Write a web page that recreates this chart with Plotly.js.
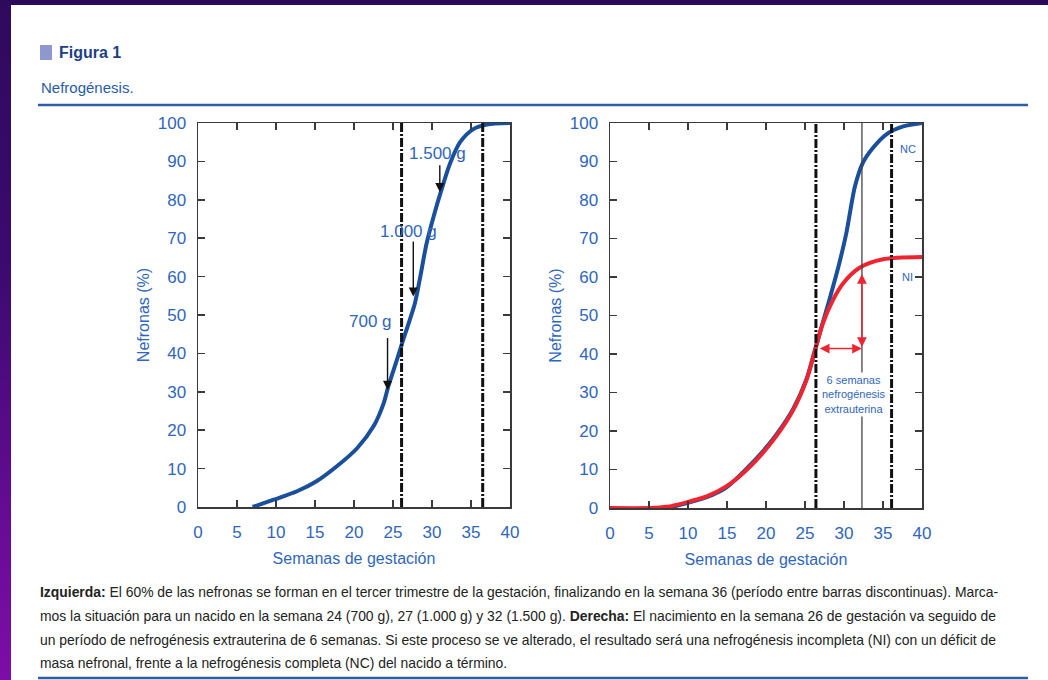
<!DOCTYPE html>
<html>
<head>
<meta charset="utf-8">
<script src="https://cdn.plot.ly/plotly-3.0.1.min.js"></script>
<style>
  html, body { margin: 0; padding: 0; background: #ffffff; }
  #wrap { position: relative; width: 1048px; height: 680px; overflow: hidden; }
  #chart { position: absolute; left: 0; top: 0; width: 1048px; height: 680px; }
  #topbar { position: absolute; left: 0; top: 0; width: 1048px; height: 5px; background: #2e0a5c; z-index: 5; }
  #leftbar { position: absolute; left: 0; top: 0; width: 11px; height: 680px; z-index: 5;
             background: linear-gradient(to bottom, #2e0a5c 0%, #3c0a70 40%, #6a0c98 80%, #7d0da8 100%); }
</style>
</head>
<body>
<div id="wrap">
  <div id="chart"></div>
  <div id="topbar"></div>
  <div id="leftbar"></div>
</div>
<script>
// ---- Data ----
// Left panel: nephrogenesis curve (NC)
const weeksLeft = [7, 9.7, 12.7, 15.2, 17.8, 20.4, 22.5, 23.8, 24.4, 25.5, 26.3, 27.8, 28.5, 29.3, 30.2, 31.2, 32.3, 33.6, 35.3, 37, 40];
const nephronsLeft = [0, 1.9, 4.1, 6.7, 10.6, 15.3, 21, 27, 31.4, 38.3, 43.5, 53, 60, 68.6, 75.6, 82.5, 89.4, 95, 98.4, 99.6, 100];
// Right panel: complete (NC) and incomplete (NI) nephrogenesis
const weeksNC = [7.5, 10.2, 12.4, 14.9, 17.1, 19.2, 21.3, 23.5, 25.2, 26.2, 27.3, 28, 29.4, 30.3, 31.4, 32.4, 33.7, 35.4, 37.6, 40];
const nephronsNC = [0, 1.5, 2.8, 5.3, 9.4, 13.8, 19, 25.8, 33.5, 40.5, 48.3, 53.2, 63.6, 71.4, 83.5, 89.6, 93.5, 97, 99.1, 100];
const weeksNI = [0, 5, 7.3, 10.2, 12.4, 14.9, 17.1, 19.2, 21.3, 23.5, 25.2, 26.2, 27.3, 28.6, 29.9, 32, 35, 40];
const nephronsNI = [0, 0, 0.3, 1.7, 3, 5.6, 9.1, 13.4, 18.6, 25.5, 33.3, 40.3, 48, 54.1, 58.4, 62.4, 64.6, 65.2];
// Reference lines (weeks)
const leftDashWeeks = [26.1, 36.5];
const rightDashWeeks = [26.4, 36.1];
const rightSolidWeek = 32.3;
// Birth-weight markers (left panel)
const markerLabels = ["700 g", "1.000 g", "1.500 g"];
const markerLabelX = [22.1, 27.0, 30.7];
const markerLabelY = [48.3, 71.7, 92.0];
const markerArrowX = [24.3, 27.6, 31.0];
const markerArrowTop = [44.4, 69.5, 89.4];
const markerArrowTip = [30.5, 54.8, 82.0];
// Extra-uterine nephrogenesis arrows (right panel)
const extraStartWeek = 26.7, extraEndWeek = 32.3, extraLevel = 41.4, extraTop = 60.8;
const seriesLabels = ["NC", "NI"];
const seriesLabelX = [38.2, 38.2];
const seriesLabelY = [93.3, 60.0];
const xTickVals = [0, 5, 10, 15, 20, 25, 30, 35, 40];
const yTickVals = [0, 10, 20, 30, 40, 50, 60, 70, 80, 90, 100];
const captionLines = [
  "<b>Izquierda:</b> El 60% de las nefronas se forman en el tercer trimestre de la gestación, finalizando en la semana 36 (período entre barras discontinuas). Marca-",
  "mos la situación para un nacido en la semana 24 (700 g), 27 (1.000 g) y 32 (1.500 g). <b>Derecha:</b> El nacimiento en la semana 26 de gestación va seguido de",
  "un período de nefrogénesis extrauterina de 6 semanas. Si este proceso se ve alterado, el resultado será una nefrogénesis incompleta (NI) con un déficit de",
  "masa nefronal, frente a la nefrogénesis completa (NC) del nacido a término."
];

// ---- Styling ----
const W = 1048, H = 680;
const px = v => v / W;
const py = v => 1 - v / H;
const BLUE = "#1a4f9e";
const RED = "#ee2530";
const TXT = "#2f66bd";
const AX = "#3a3a3a";
const FONT = "Liberation Sans, Arial, sans-serif";

const traces = [
  { x: weeksLeft, y: nephronsLeft, xaxis: "x", yaxis: "y", mode: "lines",
    line: { color: BLUE, width: 4, shape: "spline", smoothing: 0.8 }, cliponaxis: false, hoverinfo: "skip" },
  { x: weeksNC, y: nephronsNC, xaxis: "x2", yaxis: "y2", mode: "lines",
    line: { color: BLUE, width: 4, shape: "spline", smoothing: 0.8 }, cliponaxis: false, hoverinfo: "skip" },
  { x: weeksNI, y: nephronsNI, xaxis: "x2", yaxis: "y2", mode: "lines",
    line: { color: RED, width: 4, shape: "spline", smoothing: 0.8 }, cliponaxis: false, hoverinfo: "skip" }
];

function axisX(domain, anchor) {
  return { domain: domain, anchor: anchor, range: [0, 40], tickvals: xTickVals, ticks: "inside", ticklen: 7,
    tickwidth: 1.5, tickcolor: AX, mirror: "ticks", showline: true, linecolor: AX, linewidth: 1.5,
    showgrid: false, zeroline: false, ticklabelstandoff: 9,
    tickfont: { family: FONT, size: 17, color: TXT },
    title: { text: "Semanas de gestación", font: { family: FONT, size: 16, color: TXT }, standoff: 12 } };
}
function axisY(domain, anchor) {
  return { domain: domain, anchor: anchor, range: [0, 100], tickvals: yTickVals, ticks: "inside", ticklen: 7,
    tickwidth: 1.5, tickcolor: AX, mirror: "ticks", showline: true, linecolor: AX, linewidth: 1.5,
    showgrid: false, zeroline: false, ticklabelstandoff: 7,
    tickfont: { family: FONT, size: 17, color: TXT },
    title: { text: "Nefronas (%)", font: { family: FONT, size: 16, color: TXT }, standoff: 4 } };
}

const shapes = [];
leftDashWeeks.forEach(w => shapes.push({ type: "line", xref: "x", yref: "y", x0: w, x1: w, y0: 0, y1: 100,
  line: { color: "#111", width: 3, dash: "9px,2px,2px,2px" } }));
rightDashWeeks.forEach(w => shapes.push({ type: "line", xref: "x2", yref: "y2", x0: w, x1: w, y0: 0, y1: 100,
  line: { color: "#111", width: 3, dash: "9px,2px,2px,2px" } }));
shapes.push({ type: "line", xref: "x2", yref: "y2", x0: rightSolidWeek, x1: rightSolidWeek, y0: 0, y1: 100,
  line: { color: "#444", width: 1.3 } });
// header / footer rules and marker
shapes.push({ type: "rect", xref: "paper", yref: "paper", x0: px(40), x1: px(52), y0: py(60), y1: py(45),
  fillcolor: "#8e98cf", line: { width: 0 } });
shapes.push({ type: "line", xref: "paper", yref: "paper", x0: px(38), x1: px(1028), y0: py(105), y1: py(105),
  line: { color: "#2d5da6", width: 2.5 } });
shapes.push({ type: "line", xref: "paper", yref: "paper", x0: px(38), x1: px(1028), y0: py(678), y1: py(678),
  line: { color: "#2d5da6", width: 2.5 } });

const annotations = [];
// header
annotations.push({ xref: "paper", yref: "paper", x: px(57), y: py(53), xanchor: "left", yanchor: "middle",
  text: "<b>Figura 1</b>", showarrow: false, font: { family: FONT, size: 16, color: "#1d3f86" } });
annotations.push({ xref: "paper", yref: "paper", x: px(39), y: py(87), xanchor: "left", yanchor: "middle",
  text: "Nefrogénesis.", showarrow: false, font: { family: FONT, size: 15, color: "#2a5aa8" } });
// weight labels and arrows
markerLabels.forEach((t, i) => {
  annotations.push({ xref: "x", yref: "y", x: markerLabelX[i], y: markerLabelY[i], text: t, showarrow: false,
    xanchor: "center", yanchor: "middle", font: { family: FONT, size: 17, color: TXT } });
  annotations.push({ xref: "x", yref: "y", axref: "x", ayref: "y", x: markerArrowX[i], y: markerArrowTip[i],
    ax: markerArrowX[i], ay: markerArrowTop[i], text: "", showarrow: true, arrowhead: 2, arrowsize: 1.3,
    arrowwidth: 1.4, arrowcolor: "#111" });
});
// right panel double arrows
annotations.push({ xref: "x2", yref: "y2", axref: "x2", ayref: "y2", x: extraEndWeek, y: extraLevel,
  ax: extraStartWeek, ay: extraLevel, text: "", showarrow: true, arrowside: "end+start", arrowhead: 2,
  startarrowhead: 2, arrowsize: 1.3, startarrowsize: 1.3, arrowwidth: 1.5, arrowcolor: RED });
annotations.push({ xref: "x2", yref: "y2", axref: "x2", ayref: "y2", x: extraEndWeek, y: extraTop,
  ax: extraEndWeek, ay: extraLevel, text: "", showarrow: true, arrowside: "end+start", arrowhead: 2,
  startarrowhead: 2, arrowsize: 1.3, startarrowsize: 1.3, arrowwidth: 1.5, arrowcolor: RED });
annotations.push({ xref: "x2", yref: "y2", x: 31.2, y: 29.6, text: "6 semanas<br>nefrogénesis<br>extrauterina",
  showarrow: false, align: "center", bgcolor: "#ffffff", borderpad: 1,
  font: { family: FONT, size: 11, color: TXT } });
seriesLabels.forEach((t, i) => annotations.push({ xref: "x2", yref: "y2", x: seriesLabelX[i], y: seriesLabelY[i],
  text: t, showarrow: false, bgcolor: "#ffffff", borderpad: 0, font: { family: FONT, size: 11, color: TXT } }));
// caption
const capY = [592, 616, 640, 663];
captionLines.forEach((t, i) => annotations.push({ xref: "paper", yref: "paper", x: px(38), y: py(capY[i]),
  xanchor: "left", yanchor: "middle", text: t, showarrow: false,
  font: { family: FONT, size: 13.9, color: "#222222" } }));

const layout = {
  width: W, height: H, margin: { l: 0, r: 0, t: 0, b: 0 }, showlegend: false,
  paper_bgcolor: "#ffffff", plot_bgcolor: "rgba(0,0,0,0)",
  xaxis: axisX([px(198), px(510)], "y"),
  yaxis: axisY([py(507), py(123)], "x"),
  xaxis2: axisX([px(610), px(922)], "y2"),
  yaxis2: axisY([py(508), py(123)], "x2"),
  shapes: shapes, annotations: annotations
};

Plotly.newPlot("chart", traces, layout, { staticPlot: true, displayModeBar: false });
</script>
</body>
</html>
